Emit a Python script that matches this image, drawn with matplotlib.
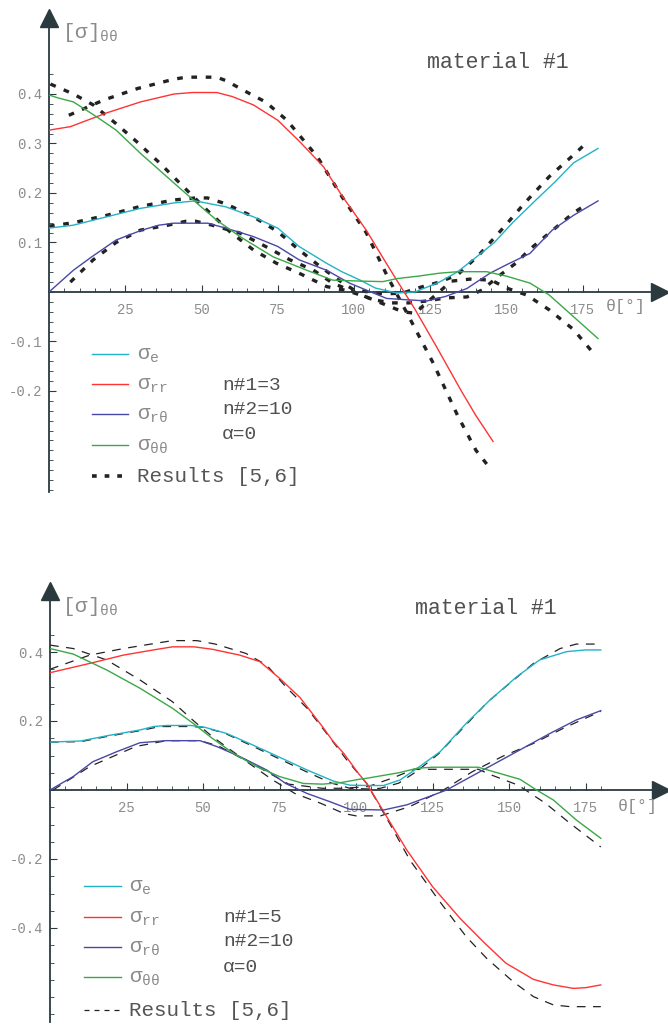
import numpy as np
import matplotlib
matplotlib.use("Agg")
import matplotlib.pyplot as plt
from matplotlib.lines import Line2D
from matplotlib.ticker import FixedLocator, FuncFormatter

plt.rcParams['font.family'] = ['Liberation Mono', 'DejaVu Sans']
plt.rcParams['mathtext.fontset'] = 'custom'
plt.rcParams['mathtext.rm'] = 'Liberation Mono'
plt.rcParams['mathtext.it'] = 'Liberation Mono'
plt.rcParams['mathtext.bf'] = 'Liberation Mono'

# ---- panel 1 : n#1=3 ----
a_e_x = [0, 8, 19, 30, 41, 48, 58, 67, 75, 82, 91, 96, 102, 107, 114, 120, 128, 134, 140, 146, 152, 159, 166, 172, 180]
a_e_y = [0.129, 0.135, 0.152, 0.169, 0.18, 0.184, 0.172, 0.152, 0.129, 0.092, 0.058, 0.041, 0.024, 0.008, -0.002,
         0.0, 0.02, 0.041, 0.07, 0.10, 0.14, 0.182, 0.223, 0.261, 0.29]
a_e_ref_x = [0, 8, 19, 30, 41, 48, 52, 58, 67, 75, 82, 89, 95, 100, 105, 110, 116, 122, 128, 134, 141, 149, 156, 164, 172, 176]
a_e_ref_y = [0.133, 0.14, 0.155, 0.173, 0.186, 0.19, 0.19, 0.178, 0.152, 0.122, 0.085, 0.051, 0.024, 0.004, 0.0,
             -0.004, -0.002, 0.01, 0.02, 0.035, 0.075, 0.13, 0.18, 0.233, 0.277, 0.30]
a_rr_x = [0, 7, 19, 30, 41, 47, 55, 60, 67, 75, 82, 90, 96, 104, 110, 114, 120, 127, 135, 140, 145.6]
a_rr_y = [0.327, 0.334, 0.362, 0.384, 0.40, 0.403, 0.403, 0.395, 0.378, 0.347, 0.305, 0.253, 0.195, 0.125, 0.064,
          0.024, -0.035, -0.11, -0.198, -0.25, -0.302]
a_rr_ref_x = [6.5, 18, 29, 41, 45, 55, 58, 66, 71, 78, 88, 96, 104, 111, 118, 126, 134, 140, 144.6]
a_rr_ref_y = [0.357, 0.388, 0.411, 0.43, 0.434, 0.434, 0.427, 0.40, 0.384, 0.347, 0.273, 0.193, 0.12, 0.031,
              -0.05, -0.144, -0.25, -0.32, -0.356]
a_rt_x = [0, 8, 14, 22, 30, 36, 41, 52, 58, 67, 75, 82, 91, 98.5, 104, 110.7, 118, 124, 130, 137, 144.6, 150, 157.7,
          165, 172, 180]
a_rt_y = [0, 0.044, 0.071, 0.105, 0.124, 0.135, 0.139, 0.139, 0.129, 0.112, 0.092, 0.065, 0.044, 0.018, 0.004,
          -0.013, -0.016, -0.018, -0.009, 0.007, 0.038, 0.055, 0.078, 0.125, 0.155, 0.184]
a_rt_ref_x = [7, 14.5, 22, 30, 39, 45, 48, 53.5, 62.6, 71, 79, 86.7, 93, 100, 106, 112, 118, 124, 130, 137, 142, 147,
              153, 158, 164, 172, 176]
a_rt_ref_y = [0.02, 0.065, 0.10, 0.125, 0.135, 0.143, 0.143, 0.135, 0.119, 0.092, 0.065, 0.044, 0.018, 0.0, -0.015,
              -0.022, -0.022, -0.018, -0.012, -0.01, 0.004, 0.03, 0.058, 0.088, 0.119, 0.16, 0.176]
a_tt_x = [0, 3, 8, 15.6, 22, 30, 41, 48, 55, 62.6, 73.5, 84.5, 93, 102, 109.5, 114, 121, 128, 134, 143.5, 150, 157.7,
          164, 172, 180]
a_tt_y = [0.398, 0.392, 0.384, 0.354, 0.327, 0.28, 0.22, 0.182, 0.145, 0.112, 0.071, 0.044, 0.024, 0.022, 0.021,
          0.027, 0.032, 0.038, 0.041, 0.041, 0.032, 0.018, -0.006, -0.05, -0.094]
a_tt_ref_x = [0.5, 8, 14.5, 22, 28.7, 36.4, 44, 51.7, 59.3, 67, 74.6, 82, 91, 97.6, 104, 110, 116, 120, 126, 132, 138,
              145, 150, 156.6, 164, 172, 178]
a_tt_ref_y = [0.42, 0.40, 0.378, 0.34, 0.304, 0.26, 0.213, 0.166, 0.122, 0.085, 0.058, 0.038, 0.011, 0.003, -0.01,
              -0.025, -0.04, -0.043, -0.01, 0.022, 0.026, 0.024, 0.008, -0.006, -0.036, -0.076, -0.12]

# ---- panel 2 : n#1=5 ----
b_e_x = [0, 10, 18.5, 29.4, 33.8, 38, 46, 50.5, 57.7, 66.4, 75, 84, 92.6, 98, 104, 109, 114.4, 120, 127.5, 136, 143.8,
         152.5, 160, 168.8, 175, 180]
b_e_y = [0.139, 0.142, 0.157, 0.174, 0.184, 0.187, 0.187, 0.182, 0.164, 0.13, 0.095, 0.058, 0.026, 0.014, 0.013,
         0.013, 0.029, 0.063, 0.111, 0.193, 0.261, 0.328, 0.377, 0.401, 0.406, 0.406]
b_e_ref_x = [0, 10, 18.5, 29.4, 36, 46, 50, 57, 66, 75, 84, 92, 98, 104, 108, 114, 120, 127, 135, 143, 149, 158,
             166.7, 172, 180]
b_e_ref_y = [0.139, 0.14, 0.155, 0.172, 0.184, 0.184, 0.182, 0.165, 0.128, 0.09, 0.052, 0.02, 0.005, 0.003, 0.005,
             0.02, 0.055, 0.105, 0.18, 0.255, 0.30, 0.367, 0.41, 0.423, 0.423]
b_rr_x = [0, 13, 24, 33.8, 40, 47, 53, 62, 68.6, 75, 81.7, 89, 92.6, 96, 100.8, 103.5, 110, 116.6, 125, 134, 141.6,
          149, 158, 164.5, 171, 175, 180]
b_rr_y = [0.34, 0.367, 0.391, 0.406, 0.415, 0.415, 0.408, 0.391, 0.372, 0.324, 0.268, 0.184, 0.14, 0.106, 0.048,
          0.019, -0.077, -0.174, -0.28, -0.372, -0.44, -0.502, -0.549, -0.565, -0.575, -0.573, -0.565]
b_rr_ref_x = [0, 13, 24, 33, 40, 48, 54, 64, 70.8, 77, 84, 90.4, 97, 103.5, 111, 117.6, 127, 136, 142.7, 151.4, 158,
              164.5, 170, 180]
b_rr_ref_y = [0.35, 0.391, 0.41, 0.423, 0.433, 0.433, 0.423, 0.396, 0.362, 0.30, 0.237, 0.164, 0.087, 0.019, -0.097,
              -0.203, -0.319, -0.425, -0.488, -0.556, -0.599, -0.623, -0.628, -0.628]
b_rt_x = [0, 7.6, 14, 21.8, 29.4, 38, 49, 54.5, 62, 70.8, 77, 84, 91.5, 98, 109, 116.6, 123, 129.6, 140.5, 152.5,
          163.4, 172, 180]
b_rt_y = [0, 0.039, 0.082, 0.111, 0.137, 0.143, 0.143, 0.126, 0.097, 0.058, 0.019, -0.01, -0.034, -0.056, -0.058,
          -0.043, -0.022, 0.0, 0.053, 0.111, 0.164, 0.203, 0.23]
b_rt_ref_x = [1, 13, 28, 38, 49, 55, 63, 72.8, 80, 88.6, 96, 100, 108, 117.6, 128.6, 138, 148, 158, 168, 180]
b_rt_ref_y = [0.0, 0.068, 0.126, 0.143, 0.143, 0.128, 0.09, 0.029, -0.01, -0.039, -0.068, -0.075, -0.075, -0.048,
              0.0, 0.053, 0.098, 0.135, 0.18, 0.228]
b_tt_x = [0, 7.6, 18.5, 29.4, 40, 46.8, 53, 60, 67.5, 75, 82.8, 89, 94.8, 101, 103.5, 114, 120, 125, 140, 145, 153.6,
          159, 164.5, 172, 180]
b_tt_y = [0.41, 0.394, 0.348, 0.295, 0.237, 0.193, 0.15, 0.106, 0.068, 0.039, 0.019, 0.017, 0.021, 0.031, 0.034,
          0.05, 0.063, 0.066, 0.066, 0.053, 0.031, 0.0, -0.029, -0.087, -0.14]
b_tt_ref_x = [0, 7.6, 18.5, 29.4, 40, 47, 53, 62, 70.8, 78, 89, 96, 104, 112, 119, 125, 140, 143.8, 153, 162, 170, 180]
b_tt_ref_y = [0.42, 0.41, 0.377, 0.319, 0.256, 0.20, 0.155, 0.097, 0.053, 0.017, 0.005, 0.005, 0.01, 0.035, 0.06,
              0.06, 0.06, 0.045, 0.014, -0.039, -0.097, -0.165]

x_major = [25, 50, 75, 100, 125, 150, 175]
labels = ['$\\sigma_e$', '$\\sigma_{rr}$', '$\\sigma_{r\\theta}$', '$\\sigma_{\\theta\\theta}$']
colors = ['#22b2c6', '#ff3333', '#4848a6', '#3aa848']
axis_col = '#2a3a3f'
tick_col = '#8c8c8c'
res_top = dict(lw=2.4, dashes=(1.7, 2.6))
res_bot = dict(lw=0.9, dashes=(7, 6))

W, H = 668, 1027
fig = plt.figure(figsize=(W / 100, H / 100), dpi=100)


def px_axes(left, top, right, bottom):
    return fig.add_axes([left / W, 1 - bottom / H, (right - left) / W, (bottom - top) / H])


def style_axis(ax, xlim, ylim, y_major, y_minor):
    ax.set_xlim(*xlim)
    ax.set_ylim(*ylim)
    for s in ['top', 'right']:
        ax.spines[s].set_visible(False)
    ax.spines['left'].set_position(('data', 0))
    ax.spines['bottom'].set_position(('data', 0))
    for s in ['left', 'bottom']:
        ax.spines[s].set_color(axis_col)
        ax.spines[s].set_linewidth(1.3)
    ax.xaxis.set_major_locator(FixedLocator(x_major))
    ax.xaxis.set_minor_locator(FixedLocator(np.arange(5, 181, 5)))
    ax.yaxis.set_major_locator(FixedLocator(y_major))
    ax.yaxis.set_minor_locator(FixedLocator(y_minor))
    ax.yaxis.set_major_formatter(FuncFormatter(lambda v, p: ('%g' % v)))
    ax.tick_params(which='both', direction='in', colors=axis_col, labelcolor=tick_col, labelsize=10)
    ax.tick_params(which='major', length=5, width=0.8)
    ax.tick_params(which='minor', length=3, width=0.6)
    ax.tick_params(axis='x', pad=8)
    ax.tick_params(axis='y', pad=5)
    ax.patch.set_visible(False)
    ax.plot([0], [1], marker='^', ms=13, color=axis_col, transform=ax.get_xaxis_transform(), clip_on=False)
    ax.plot([1], [0], marker='>', ms=13, color=axis_col, transform=ax.get_yaxis_transform(), clip_on=False)


def legend_block(x0, x1, xt, ys, xp, yps, params, res_style):
    for i in range(4):
        fig.add_artist(Line2D([x0 / W, x1 / W], [1 - ys[i] / H] * 2, color=colors[i], lw=1.0))
        fig.text(xt / W, 1 - (ys[i] + 6) / H, labels[i], fontsize=15, color='#8a8a8a', va='baseline')
    fig.add_artist(Line2D([x0 / W, x1 / W], [1 - ys[4] / H] * 2, color='#222222', **res_style))
    fig.text(xt / W, 1 - ys[4] / H, 'Results [5,6]', fontsize=15, color='#555555', va='center')
    for t, yp in zip(params, yps):
        fig.text(xp / W, 1 - yp / H, t, fontsize=14, color='#505050', va='center')


# ---- top panel ----
ax1 = px_axes(49, 18, 660, 492)
style_axis(ax1, (0, 611 / 3.05), (-200 / 495, 274 / 495),
           [-0.2, -0.1, 0.1, 0.2, 0.3, 0.4], np.round(np.arange(-0.4, 0.45, 0.02), 2))
sets1 = [(a_e_x, a_e_y, a_e_ref_x, a_e_ref_y), (a_rr_x, a_rr_y, a_rr_ref_x, a_rr_ref_y),
         (a_rt_x, a_rt_y, a_rt_ref_x, a_rt_ref_y), (a_tt_x, a_tt_y, a_tt_ref_x, a_tt_ref_y)]
for (x, y, rx, ry), c in zip(sets1, colors):
    ax1.plot(x, y, color=c, lw=1.0, zorder=3)
    ax1.plot(rx, ry, color='#222222', zorder=2, **res_top)

# ---- bottom panel ----
ax2 = px_axes(50, 591, 661, 1022)
style_axis(ax2, (0, 611 / 3.06), (-232 / 345, 199 / 345),
           [-0.4, -0.2, 0.2, 0.4], np.round(np.arange(-0.65, 0.5, 0.05), 2))
sets2 = [(b_e_x, b_e_y, b_e_ref_x, b_e_ref_y), (b_rr_x, b_rr_y, b_rr_ref_x, b_rr_ref_y),
         (b_rt_x, b_rt_y, b_rt_ref_x, b_rt_ref_y), (b_tt_x, b_tt_y, b_tt_ref_x, b_tt_ref_y)]
for (x, y, rx, ry), c in zip(sets2, colors):
    ax2.plot(x, y, color=c, lw=1.0, zorder=3)
    ax2.plot(rx, ry, color='#222222', zorder=2, **res_bot)

# ---- texts ----
fig.text(62 / W, 1 - 32 / H, '[σ]$_{\\theta\\theta}$', fontsize=15, color='#8a8a8a', va='center')
fig.text(62 / W, 1 - 607 / H, '[σ]$_{\\theta\\theta}$', fontsize=15, color='#8a8a8a', va='center')
fig.text(606 / W, 1 - 307 / H, 'θ[°]', fontsize=12, color='#8a8a8a', va='center')
fig.text(618 / W, 1 - 806 / H, 'θ[°]', fontsize=12, color='#8a8a8a', va='center')
fig.text(498 / W, 1 - 63 / H, 'material #1', fontsize=15.5, color='#505050', ha='center', va='center')
fig.text(486 / W, 1 - 608 / H, 'material #1', fontsize=15.5, color='#505050', ha='center', va='center')

legend_block(92, 128, 137, [354, 384, 414, 445, 476], 222, [385, 409, 435],
             ['n#1=3', 'n#2=10', 'α=0'], dict(lw=2.6, dashes=(1.3, 2.2)))
legend_block(84, 121, 129, [886, 917, 947, 977, 1010], 223, [918, 941, 967],
             ['n#1=5', 'n#2=10', 'α=0'], dict(lw=0.9, dashes=(4, 4)))

fig.savefig('out.png', dpi=100)
